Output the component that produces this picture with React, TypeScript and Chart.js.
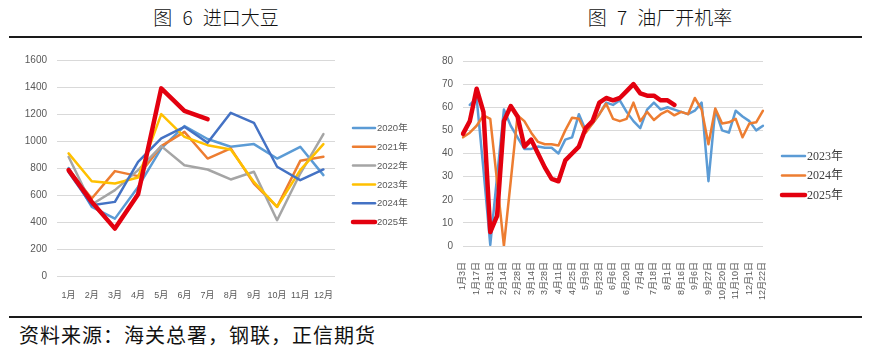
import React, { useEffect, useRef } from "react";
import { Chart, registerables } from "chart.js";

Chart.register(...registerables);

// ---------- 图6 进口大豆 (万吨) ----------
const MONTHS = ["1月", "2月", "3月", "4月", "5月", "6月", "7月", "8月", "9月", "10月", "11月", "12月"];
const IMPORT_2020 = [800, 512, 425, 660, 945, 1110, 1015, 957, 977, 870, 957, 747];
const IMPORT_2021 = [790, 574, 777, 740, 962, 1068, 870, 945, 685, 512, 853, 883];
const IMPORT_2022 = [883, 530, 636, 784, 962, 821, 789, 715, 772, 413, 759, 1051];
const IMPORT_2023 = [908, 702, 685, 730, 1199, 1031, 969, 937, 697, 512, 784, 977];
const IMPORT_2024 = [770, 524, 549, 846, 1019, 1105, 987, 1209, 1135, 809, 710, 789];
const IMPORT_2025 = [784, 549, 351, 606, 1390, 1224, 1162];
const IMPORT_LABELS = ["2020年", "2021年", "2022年", "2023年", "2024年", "2025年"];

// ---------- 图7 油厂开机率 (%) ----------
const WEEKS = [
  "1月3日", "1月10日", "1月17日", "1月24日", "1月31日", "2月7日", "2月14日", "2月21日", "2月28日",
  "3月7日", "3月14日", "3月21日", "3月28日", "4月4日", "4月11日", "4月18日", "4月25日", "5月2日",
  "5月9日", "5月16日", "5月23日", "5月30日", "6月6日", "6月13日", "6月20日", "6月27日", "7月4日",
  "7月11日", "7月18日", "7月25日", "8月1日", "8月8日", "8月16日", "8月23日", "9月6日", "9月13日",
  "9月27日", "10月11日", "10月20日", "10月27日", "11月10日", "11月17日", "12月1日", "12月8日", "12月22日",
];
const RATE_2023 = [
  null, 61, 64, 33, 0.5, 30, 59, 52, 47, 42, 42, 43, 42.5, 42.5, 40, 46, 47, 57, 50, 53, 57, 62, 61,
  63, 58, 54, 51, 59, 62, 59, 60, 59, 58, 57, 58.5, 62, 28, 59, 50, 49, 58.5, 56, 54, 50, 52,
];
const RATE_2024 = [
  47, 49, 52, 56.5, 55, 28, 0, 28, 56.5, 54, 49, 45, 44, 44, 43.5, 50, 55.5, 55, 49, 53, 57, 61.5, 55,
  54, 55, 62, 54, 58, 54.5, 57, 58.5, 56.5, 58, 57, 64, 59, 44, 59.5, 53, 53.5, 55, 47, 53, 53.5, 58.5,
];
const RATE_2025 = [
  48.5, 54, 68, 58, 6, 13, 54, 60.5, 56, 43, 46, 40, 34, 29, 28, 37, 40, 43, 51, 54, 62, 64, 63, 64,
  67, 70, 66, 65, 65, 63, 63, 61,
];
const RATE_LABELS = ["2023年", "2024年", "2025年"];

const SANS = '"Liberation Sans", "Noto Sans CJK SC", sans-serif';
const SERIF = '"Liberation Serif", "Noto Sans CJK SC", serif';
const CJK = '"Noto Sans CJK SC", sans-serif';

const sideLegend = {
  id: "sideLegend",
  afterDraw(chart: any, _args: any, opts: any) {
    const ctx = chart.ctx;
    ctx.save();
    chart.data.datasets.forEach((ds: any, i: number) => {
      const y = opts.y + i * opts.spacing;
      ctx.strokeStyle = ds.borderColor;
      ctx.lineWidth = ds.borderWidth;
      ctx.lineCap = "round";
      ctx.beginPath();
      ctx.moveTo(opts.x, y);
      ctx.lineTo(opts.x + opts.lineLen, y);
      ctx.stroke();
      ctx.fillStyle = opts.color;
      ctx.font = opts.font;
      ctx.textBaseline = "middle";
      ctx.textAlign = "left";
      ctx.fillText(ds.label, opts.x + opts.lineLen + opts.gap, y + 0.5);
    });
    ctx.restore();
  },
};

function lineDs(label: string, data: any[], color: string, width: number, order: number) {
  return {
    label,
    data,
    borderColor: color,
    backgroundColor: color,
    borderWidth: width,
    pointRadius: 0,
    pointHoverRadius: 0,
    tension: 0,
    fill: false,
    spanGaps: false,
    borderJoinStyle: "round" as const,
    borderCapStyle: "round" as const,
    order,
  };
}

export default function App() {
  const leftRef = useRef<HTMLCanvasElement | null>(null);
  const rightRef = useRef<HTMLCanvasElement | null>(null);

  useEffect(() => {
    const left = new Chart(leftRef.current as HTMLCanvasElement, {
      type: "line",
      data: {
        labels: MONTHS,
        datasets: [
          lineDs(IMPORT_LABELS[0], IMPORT_2020, "#5B9BD5", 2.5, 6),
          lineDs(IMPORT_LABELS[1], IMPORT_2021, "#ED7D31", 2.5, 5),
          lineDs(IMPORT_LABELS[2], IMPORT_2022, "#A5A5A5", 2.5, 4),
          lineDs(IMPORT_LABELS[3], IMPORT_2023, "#FFC000", 2.5, 3),
          lineDs(IMPORT_LABELS[4], IMPORT_2024, "#4472C4", 2.5, 2),
          lineDs(IMPORT_LABELS[5], IMPORT_2025, "#E3000F", 4.5, 1),
        ],
      },
      options: {
        animation: false,
        responsive: false,
        events: [],
        layout: { padding: { left: 0, top: 20, right: 105, bottom: 0 } },
        plugins: {
          legend: { display: false },
          tooltip: { enabled: false },
          sideLegend: { x: 353, y: 88, spacing: 18.8, lineLen: 22, gap: 2, font: `9.5px ${SANS}`, color: "#595959" },
        } as any,
        scales: {
          x: {
            offset: true,
            grid: { display: false },
            border: { display: false },
            ticks: { color: "#595959", font: { size: 9, family: SANS }, padding: 6, maxRotation: 0, autoSkip: false },
            afterFit: (s: any) => { s.height = 24; },
          },
          y: {
            min: 0,
            max: 1600,
            grid: { color: "#D9D9D9", lineWidth: 1, drawTicks: false },
            border: { display: false },
            ticks: {
              stepSize: 200,
              color: "#595959",
              font: { size: 10, family: SANS },
              padding: 10,
              callback: (v: any) => String(v),
            },
            afterFit: (s: any) => { s.width = 57; },
          },
        },
      },
      plugins: [sideLegend],
    });

    const right = new Chart(rightRef.current as HTMLCanvasElement, {
      type: "line",
      data: {
        labels: WEEKS,
        datasets: [
          lineDs(RATE_LABELS[0], RATE_2023, "#5B9BD5", 2.5, 3),
          lineDs(RATE_LABELS[1], RATE_2024, "#ED7D31", 2.5, 2),
          lineDs(RATE_LABELS[2], RATE_2025, "#E3000F", 4.5, 1),
        ],
      },
      options: {
        animation: false,
        responsive: false,
        events: [],
        layout: { padding: { left: 0, top: 21, right: 112, bottom: 0 } },
        plugins: {
          legend: { display: false },
          tooltip: { enabled: false },
          sideLegend: { x: 342, y: 116, spacing: 19.5, lineLen: 23, gap: 2, font: `12px ${SERIF}`, color: "#404040" },
        } as any,
        scales: {
          x: {
            offset: false,
            grid: { display: false },
            border: { display: false },
            ticks: {
              color: "#595959",
              font: { size: 9, family: SANS },
              padding: 8,
              minRotation: 90,
              maxRotation: 90,
              autoSkip: false,
              callback: (_v: any, i: number) => (i % 2 === 0 ? WEEKS[i] : ""),
            },
            afterFit: (s: any) => { s.height = 54; },
          },
          y: {
            min: 0,
            max: 80,
            grid: { color: "#D9D9D9", lineWidth: 1, drawTicks: false },
            border: { display: false },
            ticks: { stepSize: 10, color: "#595959", font: { size: 10, family: SANS }, padding: 10 },
            afterFit: (s: any) => { s.width = 23; },
          },
        },
      },
      plugins: [sideLegend],
    });

    return () => {
      left.destroy();
      right.destroy();
    };
  }, []);

  const rule = (top: number): React.CSSProperties => ({
    position: "absolute",
    left: 9,
    width: 853,
    top,
    height: 2,
    background: "#1a1a1a",
  });

  const title = (left: number, width: number): React.CSSProperties => ({
    position: "absolute",
    left,
    width,
    top: 3,
    height: 28,
    lineHeight: "28px",
    textAlign: "center",
    fontFamily: CJK,
    fontSize: 19,
    fontWeight: 300,
    wordSpacing: 6,
    color: "#111",
    whiteSpace: "pre",
  });

  return (
    <div
      style={{
        position: "fixed",
        left: 0,
        top: 0,
        width: 875,
        height: 357,
        background: "#ffffff",
        overflow: "hidden",
      }}
    >
      <div style={title(0, 432)}>图 6 进口大豆</div>
      <div style={title(440, 440)}>图 7 油厂开机率</div>
      <div style={rule(36)} />
      <canvas ref={leftRef} width={440} height={260} style={{ position: "absolute", left: 0, top: 40 }} />
      <canvas ref={rightRef} width={435} height={260} style={{ position: "absolute", left: 440, top: 40 }} />
      <div style={rule(316)} />
      <div
        style={{
          position: "absolute",
          left: 19,
          top: 321,
          height: 28,
          lineHeight: "28px",
          fontFamily: CJK,
          fontSize: 20,
          letterSpacing: 1,
          color: "#111",
          whiteSpace: "pre",
        }}
      >
        资料来源：海关总署，钢联，正信期货
      </div>
    </div>
  );
}
